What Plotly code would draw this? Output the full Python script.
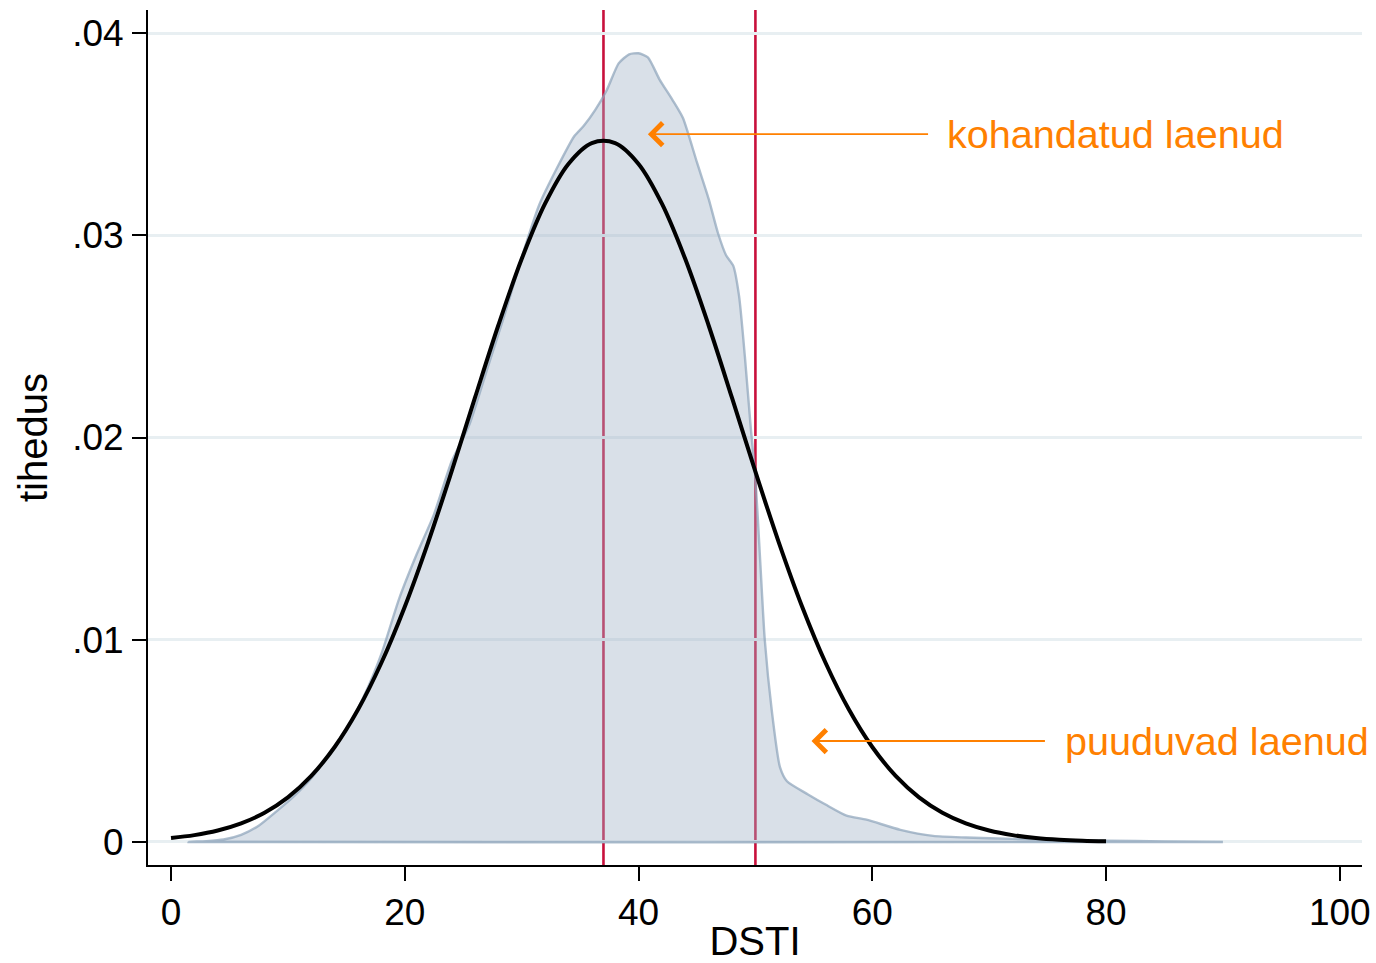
import plotly.graph_objects as go

# Estimated kernel density of DSTI (grey area)
dens_x = [1.5, 3, 4.5, 6, 7.5, 9, 10.5, 12, 13.5, 15, 16.5, 18, 19.5, 21, 22.5,
          24, 25.5, 27, 28.5, 30, 31.5, 33, 34.5, 35.3, 36.3, 37.3, 38.3, 39.2,
          40.0, 40.8, 41.8, 42.9, 43.8, 45.0, 46.0, 46.8, 47.5, 48.1, 48.6, 49.1,
          49.6, 50.0, 50.4, 50.8, 51.4, 52.1, 52.7, 54.5, 56.0, 57.8, 59.5, 62.4,
          65.2, 68, 72, 76, 80, 85, 90]
dens_y = [0.00000, 0.00004, 0.00012, 0.00035, 0.00080, 0.00150, 0.00225, 0.00315,
          0.00430, 0.00555, 0.00720, 0.00930, 0.01200, 0.01420, 0.01620, 0.01880,
          0.02060, 0.02330, 0.02600, 0.02890, 0.03150, 0.03330, 0.03490, 0.03540,
          0.03620, 0.03720, 0.03850, 0.03895, 0.03900, 0.03880, 0.03770, 0.03670,
          0.03580, 0.03360, 0.03180, 0.03010, 0.02900, 0.02850, 0.02700, 0.02400,
          0.02050, 0.01800, 0.01400, 0.01000, 0.00650, 0.00370, 0.00300, 0.00235,
          0.00185, 0.00130, 0.00110, 0.00060, 0.00030, 0.00022, 0.00015, 0.00010,
          0.00006, 0.00003, 0.00000]

# Fitted normal density (black line), evenly spaced in DSTI
norm_x = [0, 2, 4, 6, 8, 10, 12, 14, 16, 18, 20, 22, 24, 26, 28, 30, 32, 34, 36,
          38, 40, 42, 44, 46, 48, 50, 52, 54, 56, 58, 60, 62, 64, 66, 68, 70,
          72, 74, 76, 78, 80]
norm_y = [0.000196, 0.000338, 0.000565, 0.000917, 0.001443, 0.002205, 0.003266,
          0.004695, 0.006548, 0.008861, 0.011633, 0.014818, 0.018312, 0.021955,
          0.025539, 0.028823, 0.031562, 0.033528, 0.034559, 0.034559,
          0.033528, 0.031562, 0.028823, 0.025539, 0.021955, 0.018312, 0.014818,
          0.011633, 0.008861, 0.006548, 0.004695, 0.003266, 0.002205, 0.001443,
          0.000917, 0.000565, 0.000338, 0.000196, 0.000110, 0.000060, 0.000032]

# Reference thresholds (vertical lines)
thresholds = [37, 50]

# Labelled arrows: (text, arrow tip x, arrow tail x, y, text x)
arrow_labels = [
    ("kohandatud laenud", 40.8, 64.9, 0.0350, 66.2),
    ("puuduvad laenud", 54.8, 74.9, 0.00499, 76.3),
]

y_tickvals = [0, 0.01, 0.02, 0.03, 0.04]
y_ticktext = ["0", ".01", ".02", ".03", ".04"]
x_tickvals = [0, 20, 40, 60, 80, 100]

FONT = "Liberation Sans, Arial, Helvetica, sans-serif"
ORANGE = "#ff8000"

fig = go.Figure()

# closed polygon for the density area (outline includes the baseline)
poly_x = dens_x + [dens_x[-1], dens_x[0]]
poly_y = dens_y + [0, 0]
fig.add_trace(go.Scatter(
    x=poly_x, y=poly_y, mode="lines", fill="toself",
    fillcolor="rgba(160,178,198,0.40)",
    line=dict(color="rgba(140,163,185,0.7)", width=2.4, shape="spline", smoothing=0.6),
    hoverinfo="skip", showlegend=False,
))

fig.add_trace(go.Scatter(
    x=norm_x, y=norm_y, mode="lines",
    line=dict(color="black", width=4, shape="spline", smoothing=1),
    hoverinfo="skip", showlegend=False,
))

for t in thresholds:
    fig.add_shape(type="line", xref="x", yref="paper", x0=t, x1=t, y0=0, y1=1,
                  line=dict(color="#c8103c", width=2.6), layer="below")

for text, tip_x, tail_x, y, text_x in arrow_labels:
    fig.add_annotation(
        x=tip_x, y=y, ax=tail_x, ay=y, xref="x", yref="y", axref="x", ayref="y",
        text="", showarrow=True, arrowhead=4, arrowsize=2.3, arrowwidth=1.9,
        arrowcolor=ORANGE,
    )
    fig.add_annotation(
        x=text_x, y=y, xref="x", yref="y", text=text, showarrow=False,
        xanchor="left", yanchor="middle",
        font=dict(family=FONT, size=39.6, color=ORANGE),
    )

fig.update_layout(
    width=1376, height=963,
    margin=dict(l=148, r=14, t=10, b=98),
    paper_bgcolor="white", plot_bgcolor="white",
    font=dict(family=FONT, size=37, color="black"),
    showlegend=False,
)

fig.update_xaxes(
    range=[-1.97, 101.9], tickvals=x_tickvals,
    showgrid=False, zeroline=False, automargin=False,
    showline=True, linecolor="black", linewidth=2,
    ticks="outside", ticklen=14, tickwidth=2, tickcolor="black",
    tickfont=dict(family=FONT, size=37), ticklabelstandoff=0,
    title=dict(text="DSTI", font=dict(family=FONT, size=40), standoff=2),
)
fig.update_yaxes(
    range=[-0.00114, 0.04114], tickvals=y_tickvals, ticktext=y_ticktext,
    showgrid=True, gridcolor="#e8eff2", gridwidth=2.5, zeroline=False,
    automargin=False,
    showline=True, linecolor="black", linewidth=2,
    ticks="outside", ticklen=14, tickwidth=2, tickcolor="black",
    tickfont=dict(family=FONT, size=37), ticklabelstandoff=1,
    title=dict(text="tihedus", font=dict(family=FONT, size=40), standoff=12),
)

fig.write_html("out.html")
